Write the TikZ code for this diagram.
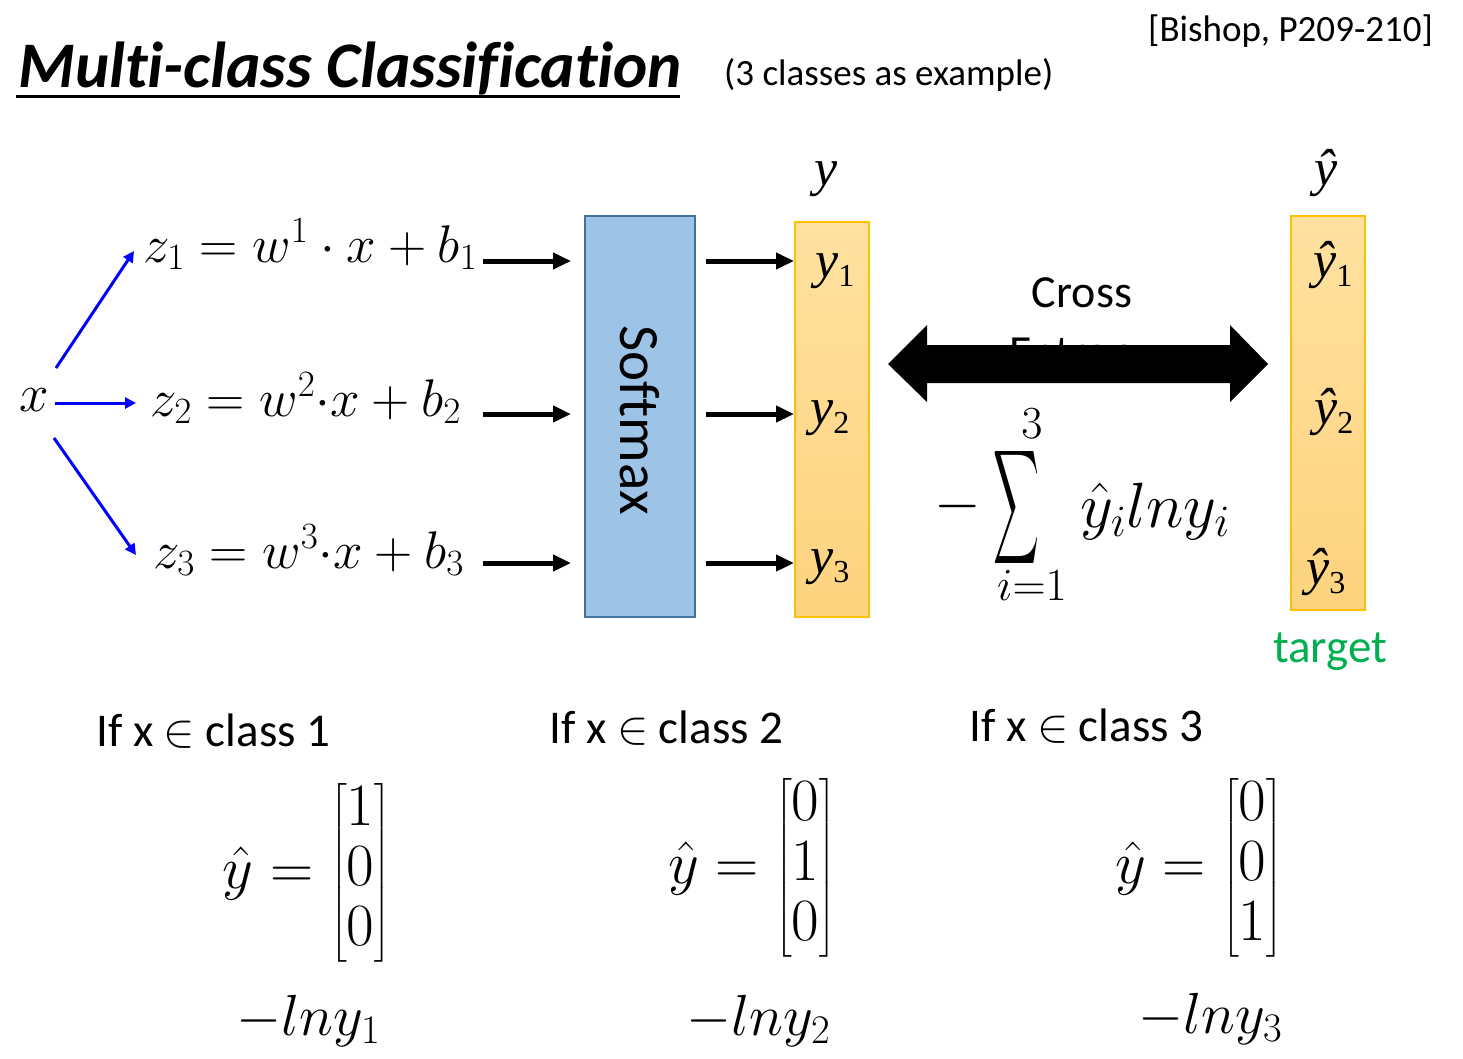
\RequirePackage{fix-cm}
\documentclass[tikz,border=0pt]{standalone}
\usepackage{amsmath}
\usepackage[no-math]{fontspec}
\setmainfont{Carlito}[Ligatures={NoCommon}]
\newfontfamily\timesf{Liberation Serif}
\usetikzlibrary{arrows.meta}
\definecolor{smfill}{HTML}{9DC3E6}
\definecolor{smdraw}{HTML}{41719C}
\definecolor{ytop}{HTML}{FFE1A0}
\definecolor{ybot}{HTML}{FDD37E}
\definecolor{ydraw}{HTML}{FFC000}
\definecolor{tgreen}{HTML}{00B050}
\newcommand{\fs}[1]{\fontsize{#1}{#1}\selectfont}
\newcommand{\ylab}[1]{{\timesf\fs{52}\itshape y}\raisebox{-9pt}{\timesf\fs{32}#1}}
\newcommand{\yhlab}[1]{{\timesf\fs{52}\itshape ŷ}\raisebox{-9pt}{\timesf\fs{32}#1}}
\begin{document}
\begin{tikzpicture}[x=1pt,y=-1pt,
  blackarrow/.style={line width=5pt,-{Triangle[length=18pt,width=16pt]}},
  bluearrow/.style={blue,line width=3pt,-{Triangle[length=11pt,width=11pt]}},
  ybox/.style={draw=ydraw,line width=2pt,top color=ytop,bottom color=ybot,anchor=north west},
  lbl/.style={inner sep=0pt,anchor=base},
  lblw/.style={inner sep=0pt,anchor=base west},
  eq/.style={inner sep=0pt,anchor=base west,font=\fs{53}}]
\useasboundingbox[fill=white] (0,0) rectangle (1463,1059);

% title
\node[lblw,font=\fs{65}\bfseries\itshape] (title) at (18,88) {Multi-class Classification};
\draw[line width=3pt] (16,97) -- (680,97);
\node[lblw,font=\fs{37}] (sub) at (724,86) {(3 classes as example)};
\node[lblw,font=\fs{37}] (ref) at (1148,42) {[Bishop, P209-210]};

% boxes
\node[draw=smdraw,fill=smfill,line width=2pt,minimum width=110pt,minimum height=401pt,anchor=north west,inner sep=0pt] (sm) at (584,215) {};
\node[rotate=-90,lbl,font=\fs{57}] (smlabel) at (620,420) {Softmax};
\node[ybox,minimum width=74pt,minimum height=395pt,inner sep=0pt] (yb) at (794,221) {};
\node[ybox,minimum width=74pt,minimum height=394pt,inner sep=0pt] (yhb) at (1290,215) {};

% x and equations
\node[inner sep=0pt,font=\fs{53}] (x) at (34,400) {$x$};
\node[eq] (z1) at (143,262) {$z_1 = w^1 \cdot x + b_1$};
\node[eq] (z2) at (150,416) {$z_2 = w^2{\cdot}x + b_2$};
\node[eq] (z3) at (153,568) {$z_3 = w^3{\cdot}x + b_3$};

\coordinate (b1s) at (56,368); \coordinate (b1e) at (134,251);
\coordinate (b2s) at (55,403); \coordinate (b2e) at (136,403);
\coordinate (b3s) at (54,438); \coordinate (b3e) at (136,555);
\draw[bluearrow] (b1s) -- (b1e);
\draw[bluearrow] (b2s) -- (b2e);
\draw[bluearrow] (b3s) -- (b3e);

\coordinate (a1) at (483,261);
\coordinate (a2) at (483,414);
\coordinate (a3) at (483,563);
\foreach \a in {a1,a2,a3}{
  \draw[blackarrow,shorten >=13pt] (\a) -- (\a -| sm.west);
  \draw[blackarrow,shorten <=10pt] (\a -| sm.east) -- (\a -| yb.west);
}

% y labels
\node[lbl] (ytop) at (826,186) {{\timesf\fs{52}\itshape y}};
\node[lbl] (yhtop) at (1326,186) {{\timesf\fs{52}\itshape ŷ}};
\node[lblw] (y1) at (815,277) {\ylab{1}};
\node[lblw] (y2) at (810,424) {\ylab{2}};
\node[lblw] (y3) at (810,573) {\ylab{3}};
\node[lblw] (yh1) at (1313,277) {\yhlab{1}};
\node[lblw] (yh2) at (1314,424) {\yhlab{2}};
\node[lblw] (yh3) at (1306,584) {\yhlab{3}};
\node[lbl,font=\fs{47},text=tgreen] (target) at (1330,662) {target};

% cross entropy
\node[lbl,font=\fs{46}] (cross) at (1082,307) {Cross};
\node[lbl,font=\fs{46}] (entropy) at (1082,367) {Entropy};
\fill (888,364) -- (927,325) -- (927,345) -- (1230,345) -- (1230,325) -- (1268,364)
  -- (1230,402) -- (1230,383) -- (927,383) -- (927,402) -- cycle;

% sum
\node[inner sep=0pt,font=\fs{60}] (minus) at (958,506) {$-$};
\node[inner sep=0pt] (sig) at (1016,508) {\resizebox*{46pt}{128pt}{$\displaystyle\sum$}};
\node[inner sep=0pt,font=\fs{46}] (up3) at (1032,424) {$3$};
\node[inner sep=0pt,font=\fs{46}] (low) at (1032,585) {$i{=}1$};
\node[lblw,font=\fs{64}] (term) at (1080,527) {$\hat{y}_i ln y_i$};

% bottom cases
\node[lblw,font=\fs{47}] (c1) at (96,746) {If x $\in$ class 1};
\node[lblw,font=\fs{47}] (c2) at (549,743) {If x $\in$ class 2};
\node[lblw,font=\fs{47}] (c3) at (969,741) {If x $\in$ class 3};

\node[inner sep=0pt,font=\fs{60}] (m1) at (307,873) {$\hat{y} = \begin{bmatrix}1\\0\\0\end{bmatrix}$};
\node[inner sep=0pt,font=\fs{60}] (m2) at (752,868) {$\hat{y} = \begin{bmatrix}0\\1\\0\end{bmatrix}$};
\node[inner sep=0pt,font=\fs{60}] (m3) at (1199,868) {$\hat{y} = \begin{bmatrix}0\\0\\1\end{bmatrix}$};

\node[lblw,font=\fs{58}] (l1) at (236,1035) {$-ln y_1$};
\node[lblw,font=\fs{58}] (l2) at (686,1035) {$-ln y_2$};
\node[lblw,font=\fs{58}] (l3) at (1138,1033) {$-ln y_3$};
\end{tikzpicture}
\end{document}
